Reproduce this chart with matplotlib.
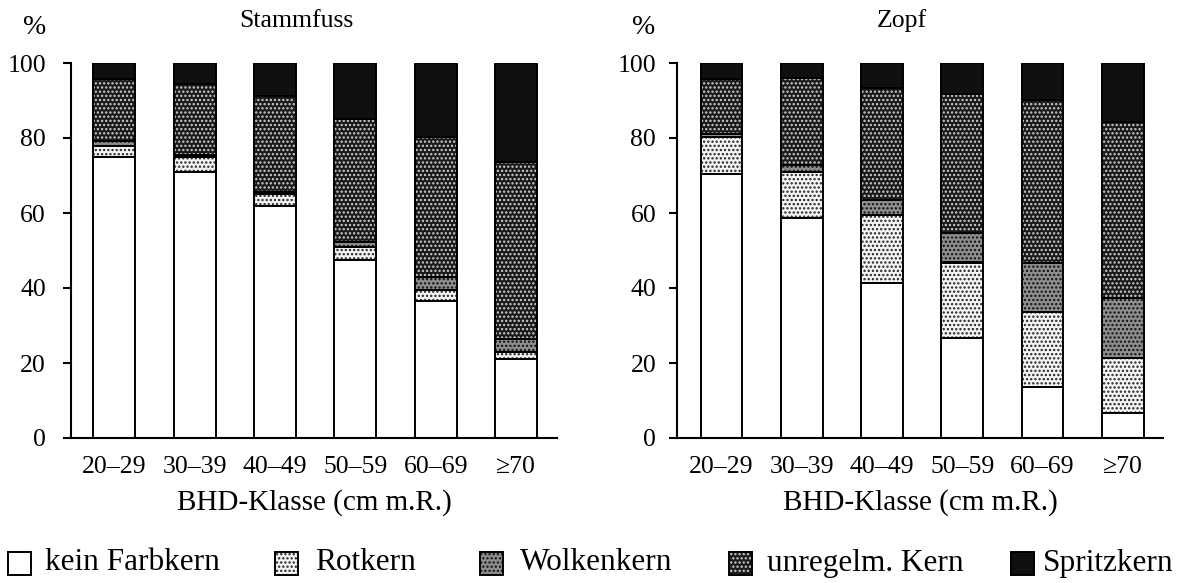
import matplotlib
matplotlib.use("Agg")
import matplotlib.pyplot as plt
from matplotlib.patches import Rectangle
import numpy as np

plt.rcParams["font.family"] = ["Liberation Serif", "DejaVu Serif"]
plt.rcParams["hatch.linewidth"] = 1.1

# Diameter classes
classes = ["20–29", "30–39", "40–49", "50–59", "60–69", "≥70"]

# Stammfuss (stem base), share in % per heartwood type
stamm_kein = [75.0, 71.0, 62.0, 47.5, 36.6, 21.2]
stamm_rot = [3.0, 4.0, 3.2, 3.5, 3.0, 1.8]
stamm_wolken = [1.3, 0.6, 0.5, 1.3, 3.4, 3.3]
stamm_unregelm = [16.4, 18.8, 25.4, 32.8, 37.2, 47.2]
stamm_spritz = [4.3, 5.6, 8.9, 14.9, 19.8, 26.5]

# Zopf (top end), share in % per heartwood type
zopf_kein = [70.3, 58.7, 41.3, 26.7, 13.6, 6.6]
zopf_rot = [10.1, 12.2, 18.1, 20.1, 20.0, 14.8]
zopf_wolken = [0.7, 1.8, 4.0, 7.9, 13.0, 15.9]
zopf_unregelm = [14.6, 23.4, 29.9, 37.0, 43.5, 46.9]
zopf_spritz = [4.3, 3.9, 6.7, 8.3, 9.9, 15.8]

labels = ["kein Farbkern", "Rotkern", "Wolkenkern", "unregelm. Kern", "Spritzkern"]

# (face colour, hatch pattern, hatch colour) for each heartwood type
styles = [
    ("white", None, "black"),
    ("#f4f4f4", "....", "#222222"),
    ("#8e8e8e", "....", "#111111"),
    ("#1a1a1a", "....", "#cfcfcf"),
    ("#101010", None, "#101010"),
]

W, H = 1183, 583
fig = plt.figure(figsize=(W / 100, H / 100), dpi=100)


def px(x0, y0, x1, y1):
    return [x0 / W, 1 - y1 / H, (x1 - x0) / W, (y1 - y0) / H]


ax1 = fig.add_axes(px(71, 63, 557, 438))
ax2 = fig.add_axes(px(677, 63, 1163, 438))

LW = 1.5
FS = 18.5


def draw(ax, series, xlim, ypad):
    x = np.arange(len(classes))
    bottom = np.zeros(len(classes))
    for vals, (fc, hatch, hc) in zip(series, styles):
        vals = np.asarray(vals)
        ax.bar(x, vals, 0.52, bottom=bottom, color=fc, edgecolor=hc,
               hatch=hatch, linewidth=0, zorder=2)
        ax.bar(x, vals, 0.52, bottom=bottom, fill=False, edgecolor="black",
               linewidth=1.4, zorder=3)
        bottom += vals
    ax.set_xlim(*xlim)
    ax.set_ylim(0, 100)
    for s in ("top", "right"):
        ax.spines[s].set_visible(False)
    ax.spines["left"].set_linewidth(LW)
    ax.spines["bottom"].set_linewidth(LW)
    ax.set_yticks([0, 20, 40, 60, 80, 100])
    ax.tick_params(axis="y", direction="out", length=6, width=LW,
                   labelsize=FS, pad=ypad)
    ax.set_xticks(x)
    ax.set_xticklabels(classes)
    ax.tick_params(axis="x", length=0, labelsize=FS, pad=13)
    ax.set_xlabel("BHD-Klasse (cm m.R.)", fontsize=21, labelpad=8)


draw(ax1, [stamm_kein, stamm_rot, stamm_wolken, stamm_unregelm, stamm_spritz],
     (-0.54, 5.51), 12)
draw(ax2, [zopf_kein, zopf_rot, zopf_wolken, zopf_unregelm, zopf_spritz],
     (-0.555, 5.50), 9)

# Titles and unit labels
fig.text(296 / W, 1 - 21 / H, "Stammfuss", fontsize=18.5, ha="center", va="center")
fig.text(902 / W, 1 - 21 / H, "Zopf", fontsize=18.5, ha="center", va="center")
fig.text(35 / W, 1 - 28 / H, "%", fontsize=20, ha="center", va="center")
fig.text(644 / W, 1 - 28 / H, "%", fontsize=20, ha="center", va="center")

# Legend row along the bottom
box_x = [8, 275, 480, 729, 1011]
text_x = [45, 315, 520, 767, 1043]
yc = 563
bs = 23
for bx, tx, lab, (fc, hatch, hc) in zip(box_x, text_x, labels, styles):
    r1 = Rectangle((bx / W, (H - yc - bs / 2) / H), bs / W, bs / H,
                   transform=fig.transFigure, facecolor=fc, edgecolor=hc,
                   hatch=hatch, linewidth=0)
    r2 = Rectangle((bx / W, (H - yc - bs / 2) / H), bs / W, bs / H,
                   transform=fig.transFigure, fill=False, edgecolor="black",
                   linewidth=1.4)
    fig.add_artist(r1)
    fig.add_artist(r2)
    fig.text(tx / W, 1 - yc / H, lab, fontsize=22.5, ha="left", va="center")

fig.savefig("out.png", dpi=100)
